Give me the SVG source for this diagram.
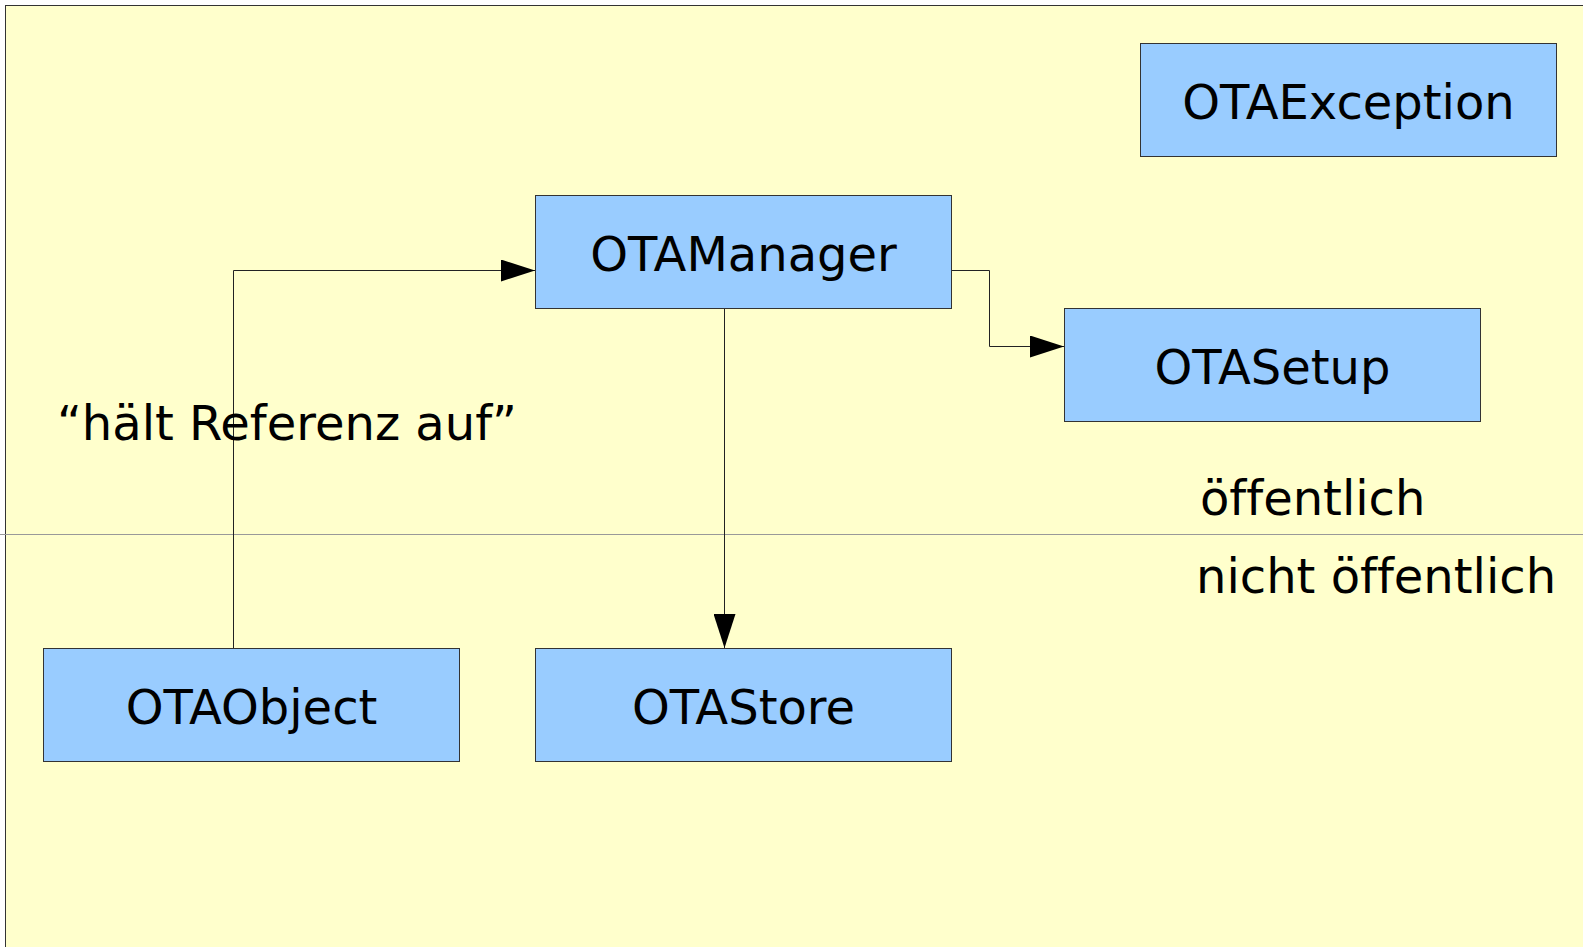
<svg xmlns="http://www.w3.org/2000/svg" width="1583" height="947" viewBox="0 0 1583 947">
  <style>
    .node rect { fill: #99ccff; stroke: #333333; stroke-width: 1; }
    text { font-family: "DejaVu Sans", Verdana, sans-serif; font-size: 48px; fill: #000000; font-variant-ligatures: none; font-feature-settings: "liga" 0; }
    .node text { text-anchor: middle; }
    .edge { fill: none; stroke: #222222; stroke-width: 1; }
  </style>
  <defs>
    <marker id="arrow" viewBox="0 0 34 22" refX="34" refY="11" markerWidth="34" markerHeight="22" markerUnits="userSpaceOnUse" orient="auto">
      <polygon points="0,0 34,11 0,22" fill="#000000"/>
    </marker>
  </defs>

  <!-- page background -->
  <rect x="0" y="0" width="1583" height="947" fill="#ffffff"/>
  <rect x="5.5" y="5.5" width="1600" height="1000" fill="#ffffcc" stroke="#333333" stroke-width="1"/>

  <!-- public / non-public boundary -->
  <line x1="0" y1="534.5" x2="1583" y2="534.5" stroke="#999999" stroke-width="1"/>
  <text x="1200" y="515">öffentlich</text>
  <text x="1196" y="593">nicht öffentlich</text>

  <!-- connectors -->
  <g id="connectors">
    <path class="edge" d="M233.5,648 V270.5 H535" marker-end="url(#arrow)"/>
    <path class="edge" d="M951,270.5 H989.5 V346.5 H1064" marker-end="url(#arrow)"/>
    <path class="edge" d="M724.5,308 V648" marker-end="url(#arrow)"/>
  </g>
  <text x="57" y="440">“hält Referenz auf”</text>

  <!-- classes -->
  <g id="OTAException" class="node">
    <rect x="1140.5" y="43.5" width="416" height="113"/>
    <text x="1348.5" y="118.5">OTAException</text>
  </g>
  <g id="OTAManager" class="node">
    <rect x="535.5" y="195.5" width="416" height="113"/>
    <text x="743.5" y="270.5">OTAManager</text>
  </g>
  <g id="OTASetup" class="node">
    <rect x="1064.5" y="308.5" width="416" height="113"/>
    <text x="1272.5" y="383.5">OTASetup</text>
  </g>
  <g id="OTAObject" class="node">
    <rect x="43.5" y="648.5" width="416" height="113"/>
    <text x="251.5" y="723.5">OTAObject</text>
  </g>
  <g id="OTAStore" class="node">
    <rect x="535.5" y="648.5" width="416" height="113"/>
    <text x="743.5" y="723.5">OTAStore</text>
  </g>
</svg>
